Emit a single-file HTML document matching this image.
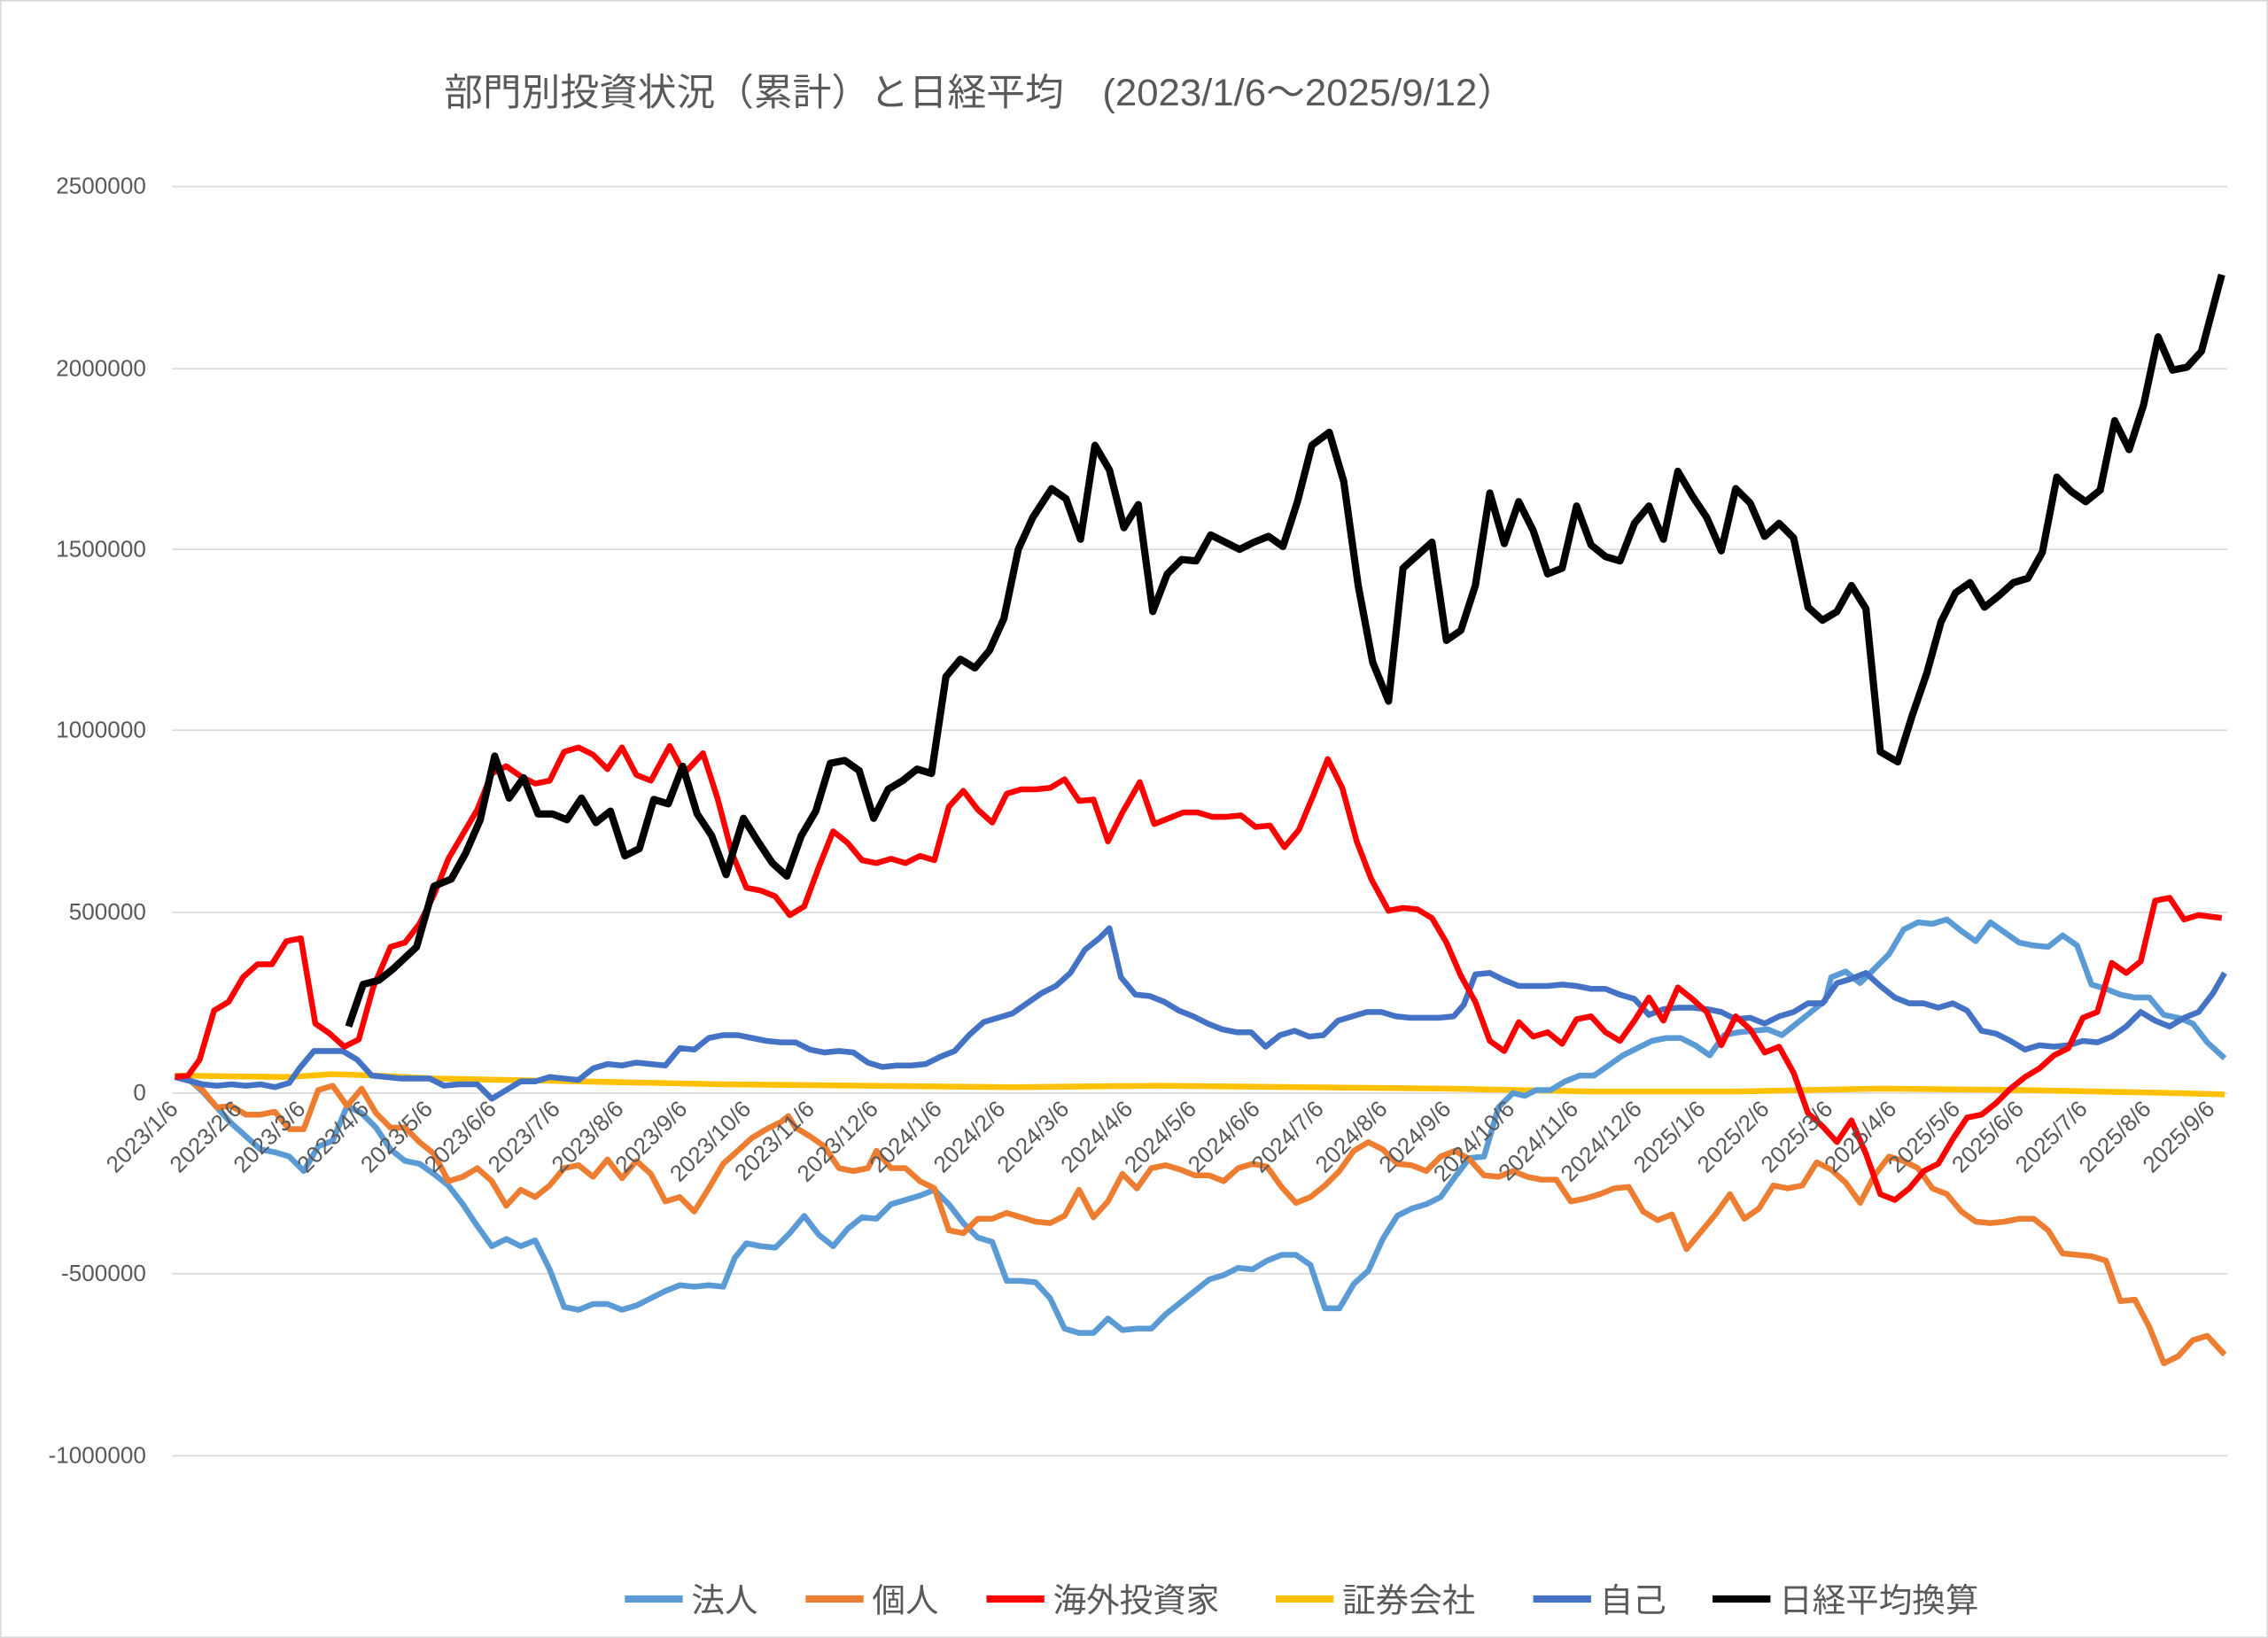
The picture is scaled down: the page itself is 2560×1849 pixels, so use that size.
<!DOCTYPE html>
<html><head><meta charset="utf-8"><style>
html,body{margin:0;padding:0;background:#fff;}
svg{display:block;}
text{font-family:"Liberation Sans","Noto Sans CJK JP",sans-serif;}
</style></head><body>
<svg width="2560" height="1849" viewBox="0 0 1568 1133" preserveAspectRatio="none" xmlns="http://www.w3.org/2000/svg">
<rect x="0.5" y="0.5" width="1567" height="1132" fill="#fff" stroke="#d9d9d9"/>
<text x="307" y="73" font-size="26" fill="#595959" textLength="741" lengthAdjust="spacingAndGlyphs">部門別投資状況（累計）と日経平均　(2023/1/6～2025/9/12）</text>
<g stroke="#d9d9d9" stroke-width="1">
<line x1="119" y1="129" x2="1540" y2="129"/>
<line x1="119" y1="255" x2="1540" y2="255"/>
<line x1="119" y1="380" x2="1540" y2="380"/>
<line x1="119" y1="505" x2="1540" y2="505"/>
<line x1="119" y1="631" x2="1540" y2="631"/>
<line x1="119" y1="756" x2="1540" y2="756"/>
<line x1="119" y1="881" x2="1540" y2="881"/>
<line x1="119" y1="1007" x2="1540" y2="1007"/>
</g>
<g font-size="16" fill="#595959" text-anchor="end">
<text x="101" y="134">2500000</text>
<text x="101" y="260">2000000</text>
<text x="101" y="385">1500000</text>
<text x="101" y="510">1000000</text>
<text x="101" y="636">500000</text>
<text x="101" y="761">0</text>
<text x="101" y="886">-500000</text>
<text x="101" y="1012">-1000000</text>
</g>
<g fill="none" stroke-width="4" stroke-linejoin="round">
<polyline stroke="#ffc000" points="121,744 200,745 230,743 260,744 300,746 400,748 500,750 600,751 700,752 800,751 900,752 1000,753 1100,755 1200,755 1300,753 1400,754 1500,756 1538,757"/>
<polyline stroke="#5b9bd5" points="121,744 130,746 140,755 150,766 160,777 170,786 180,795 190,797 200,800 210,810 220,793 230,789 240,765 250,770 260,780 270,795 280,803 290,805 300,812 310,820 320,833 330,848 340,862 350,857 360,862 370,858 380,878 390,904 400,906 410,902 420,902 430,906 440,903 450,898 460,893 470,889 480,890 490,889 500,890 508,870 516,860 526,862 536,863 546,853 556,841 566,854 576,862 586,850 596,842 606,843 616,833 626,830 636,827 646,823 656,833 666,846 676,856 686,859 696,886 706,886 716,887 726,898 736,919 746,922 756,922 766,912 776,920 786,919 796,919 806,909 816,901 826,893 836,885 846,882 856,877 866,878 876,872 886,868 896,868 906,875 916,905 926,905 936,888 946,879 956,857 966,841 976,836 986,833 996,828 1006,814 1016,801 1026,800 1036,766 1046,756 1054,758 1062,754 1072,754 1082,748 1092,744 1102,744 1112,737 1122,730 1132,725 1142,720 1152,718 1162,718 1172,723 1182,730 1192,716 1202,714 1212,713 1222,712 1232,716 1242,708 1252,700 1262,692 1266,676 1276,672 1286,680 1296,670 1306,660 1316,643 1326,638 1336,639 1346,636 1356,644 1366,651 1376,638 1386,645 1396,652 1406,654 1416,655 1426,647 1436,654 1446,681 1456,684 1466,688 1476,690 1486,690 1496,702 1506,704 1516,708 1526,721 1538,732"/>
<polyline stroke="#ed7d31" points="121,744 130,746 140,754 150,766 160,765 170,771 180,771 190,769 200,781 210,781 220,754 230,751 240,765 250,753 260,770 270,780 280,780 290,790 300,798 310,817 320,814 330,808 340,817 350,834 360,823 370,828 380,820 390,808 400,806 410,814 420,802 430,815 440,803 450,812 460,831 470,828 480,838 490,822 500,805 510,796 520,787 530,781 540,776 545,772 550,780 560,786 570,793 580,808 590,810 600,808 606,796 616,808 626,808 636,817 646,822 656,851 666,853 676,843 686,843 696,839 706,842 716,845 726,846 736,841 746,823 756,842 766,831 776,812 786,822 796,808 806,806 816,809 826,813 836,813 846,817 856,808 866,805 876,807 886,821 896,832 906,828 916,820 926,810 936,796 946,790 956,795 966,805 976,806 986,810 996,800 1006,796 1016,802 1026,813 1036,814 1046,810 1056,814 1066,816 1076,816 1086,831 1096,829 1106,826 1116,822 1126,821 1136,838 1146,844 1156,840 1166,864 1176,852 1186,840 1196,826 1206,843 1216,836 1226,820 1236,822 1246,820 1256,804 1266,809 1276,818 1286,832 1296,813 1306,800 1316,803 1326,808 1336,822 1346,826 1356,838 1366,845 1376,846 1386,845 1396,843 1406,843 1416,851 1426,867 1436,868 1446,869 1456,872 1466,900 1476,899 1486,918 1496,943 1506,938 1516,927 1526,924 1538,937"/>
<polyline stroke="#4472c4" points="121,745 140,750 150,751 160,750 170,751 180,750 190,752 200,749 207,739 217,727 227,727 237,727 247,733 257,744 267,745 277,746 287,746 297,746 307,751 317,750 330,750 340,760 350,754 360,748 370,748 380,745 390,746 400,747 410,739 420,736 430,737 440,735 450,736 460,737 470,725 480,726 490,718 500,716 510,716 520,718 530,720 540,721 550,721 560,726 570,728 580,727 590,728 600,735 610,738 620,737 630,737 640,736 650,731 660,727 670,716 680,707 690,704 700,701 710,694 720,687 730,682 740,673 750,657 760,649 767,642 775,676 785,688 795,689 805,693 815,699 825,703 835,708 845,712 855,714 865,714 875,724 885,716 895,713 905,717 915,716 925,706 935,703 945,700 955,700 965,703 975,704 985,704 995,704 1005,703 1012,695 1020,674 1030,673 1040,678 1050,682 1060,682 1070,682 1080,681 1090,682 1100,684 1110,684 1120,688 1130,691 1140,702 1150,698 1160,697 1170,697 1180,698 1190,700 1200,705 1210,704 1220,708 1230,703 1240,700 1250,694 1260,694 1270,680 1280,677 1290,673 1300,682 1310,690 1320,694 1330,694 1340,697 1350,694 1360,699 1370,713 1380,715 1390,720 1400,726 1410,723 1420,724 1430,723 1440,720 1450,721 1460,717 1470,710 1480,700 1490,706 1500,710 1510,704 1520,700 1530,687 1538,673"/>
<polyline stroke="#ff0000" points="121,745 130,744 138,733 148,699 158,693 168,676 178,667 188,667 198,651 208,649 218,708 228,715 238,724 248,719 258,683 270,655 280,652 290,639 300,619 310,594 320,577 330,560 340,535 350,530 360,537 370,542 380,540 390,520 400,517 410,522 420,532 430,517 440,536 450,540 463,516 473,535 486,521 496,552 506,590 516,614 526,616 536,620 546,633 556,627 566,600 576,575 586,583 596,595 606,597 616,594 626,597 636,592 646,595 656,558 666,547 676,560 686,569 696,549 706,546 716,546 726,545 736,539 746,554 756,553 766,582 776,562 788,541 798,570 808,566 818,562 828,562 838,565 848,565 858,564 868,572 878,571 888,586 898,574 908,550 918,525 928,545 938,582 948,608 960,630 970,628 980,629 990,635 1000,652 1010,675 1020,693 1030,720 1040,727 1050,707 1060,717 1070,714 1080,722 1090,705 1100,703 1110,714 1120,720 1130,706 1140,690 1150,706 1160,683 1170,691 1180,700 1190,723 1200,703 1210,712 1220,728 1230,724 1240,742 1250,770 1260,779 1270,790 1280,775 1290,798 1300,826 1310,830 1320,822 1330,810 1340,805 1350,788 1360,773 1370,771 1380,763 1390,753 1400,745 1410,739 1420,730 1430,725 1440,704 1450,700 1460,666 1470,673 1480,665 1490,623 1500,621 1510,636 1520,633 1536,635"/>
<polyline stroke="#000" stroke-width="5" points="241,710 251,681 262,678 272,670 288,655 300,613 312,608 322,590 332,567 342,523 352,552 362,538 372,563 382,563 392,567 402,552 412,569 422,561 432,592 442,587 452,553 462,556 472,530 482,563 492,578 502,605 514,566 524,582 534,597 544,606 554,578 564,561 574,528 584,526 594,533 604,566 614,546 624,540 634,532 644,535 654,468 664,456 674,462 684,450 694,428 704,380 714,358 727,338 737,345 747,373 757,308 767,325 777,365 787,349 797,423 807,397 817,387 827,388 837,370 847,375 857,380 867,375 877,371 887,378 897,347 907,308 919,299 929,333 939,405 949,458 960,485 970,393 980,384 990,375 1000,443 1010,436 1020,405 1030,341 1040,376 1050,347 1060,367 1070,397 1080,393 1090,350 1100,377 1110,385 1120,388 1130,362 1140,350 1150,373 1160,326 1170,343 1180,358 1190,381 1200,338 1210,348 1220,371 1230,362 1240,372 1250,420 1260,429 1270,423 1280,405 1290,421 1300,520 1312,527 1322,495 1332,466 1342,430 1352,410 1362,403 1372,420 1382,412 1392,403 1402,400 1412,382 1422,330 1432,340 1442,347 1452,339 1462,291 1472,311 1482,280 1492,233 1502,256 1512,254 1522,243 1536,190"/>
</g>
<g font-size="23" fill="#595959">
<line x1="432" y1="1106" x2="472" y2="1106" stroke="#5b9bd5" stroke-width="5"/><text x="478" y="1115">法人</text>
<line x1="557" y1="1106" x2="597" y2="1106" stroke="#ed7d31" stroke-width="5"/><text x="603" y="1115">個人</text>
<line x1="682" y1="1106" x2="722" y2="1106" stroke="#ff0000" stroke-width="5"/><text x="728" y="1115">海外投資家</text>
<line x1="882" y1="1106" x2="922" y2="1106" stroke="#ffc000" stroke-width="5"/><text x="928" y="1115">証券会社</text>
<line x1="1060" y1="1106" x2="1100" y2="1106" stroke="#4472c4" stroke-width="5"/><text x="1106" y="1115">自己</text>
<line x1="1184" y1="1106" x2="1224" y2="1106" stroke="#000" stroke-width="5"/><text x="1230" y="1115">日経平均換算</text>
</g>
<g font-size="16" fill="#595959" text-anchor="end">
<text transform="translate(124,768) rotate(-45)">2023/1/6</text>
<text transform="translate(168,768) rotate(-45)">2023/2/6</text>
<text transform="translate(212,768) rotate(-45)">2023/3/6</text>
<text transform="translate(256,768) rotate(-45)">2023/4/6</text>
<text transform="translate(300,768) rotate(-45)">2023/5/6</text>
<text transform="translate(344,768) rotate(-45)">2023/6/6</text>
<text transform="translate(388,768) rotate(-45)">2023/7/6</text>
<text transform="translate(432,768) rotate(-45)">2023/8/6</text>
<text transform="translate(476,768) rotate(-45)">2023/9/6</text>
<text transform="translate(520,768) rotate(-45)">2023/10/6</text>
<text transform="translate(564,768) rotate(-45)">2023/11/6</text>
<text transform="translate(608,768) rotate(-45)">2023/12/6</text>
<text transform="translate(652,768) rotate(-45)">2024/1/6</text>
<text transform="translate(696,768) rotate(-45)">2024/2/6</text>
<text transform="translate(740,768) rotate(-45)">2024/3/6</text>
<text transform="translate(784,768) rotate(-45)">2024/4/6</text>
<text transform="translate(828,768) rotate(-45)">2024/5/6</text>
<text transform="translate(872,768) rotate(-45)">2024/6/6</text>
<text transform="translate(916,768) rotate(-45)">2024/7/6</text>
<text transform="translate(960,768) rotate(-45)">2024/8/6</text>
<text transform="translate(1004,768) rotate(-45)">2024/9/6</text>
<text transform="translate(1048,768) rotate(-45)">2024/10/6</text>
<text transform="translate(1092,768) rotate(-45)">2024/11/6</text>
<text transform="translate(1136,768) rotate(-45)">2024/12/6</text>
<text transform="translate(1180,768) rotate(-45)">2025/1/6</text>
<text transform="translate(1224,768) rotate(-45)">2025/2/6</text>
<text transform="translate(1268,768) rotate(-45)">2025/3/6</text>
<text transform="translate(1312,768) rotate(-45)">2025/4/6</text>
<text transform="translate(1356,768) rotate(-45)">2025/5/6</text>
<text transform="translate(1400,768) rotate(-45)">2025/6/6</text>
<text transform="translate(1444,768) rotate(-45)">2025/7/6</text>
<text transform="translate(1488,768) rotate(-45)">2025/8/6</text>
<text transform="translate(1532,768) rotate(-45)">2025/9/6</text>
</g>
</svg>
</body></html>
